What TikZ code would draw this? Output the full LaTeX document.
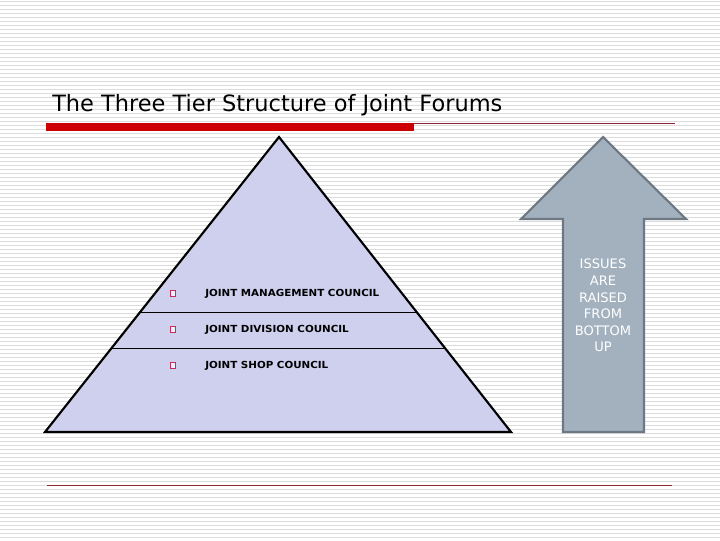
\documentclass[tikz,border=0pt]{standalone}
\usepackage{fontspec}
\setmainfont{DejaVu Sans}
\definecolor{stripec}{HTML}{DCDCDC}
\definecolor{redbar}{HTML}{CC0000}
\definecolor{thinred}{HTML}{8B2A35}
\definecolor{pyrfill}{HTML}{CED0EE}
\definecolor{arrfill}{HTML}{A3B1BF}
\definecolor{arrdraw}{HTML}{6E7882}
\definecolor{bulc}{HTML}{C0305A}
\tikzset{
  stripe/.style={stripec, line width=0.75pt},
  pyr/.style={fill=pyrfill, draw=black, line width=1.6pt, line join=miter},
  tier/.style={draw=black, line width=0.75pt},
  arrshape/.style={fill=arrfill, draw=arrdraw, line width=1.6pt, line join=miter},
  bul/.style={draw=bulc, line width=0.6pt, fill=white!70!pyrfill},
  tiertext/.style={anchor=west, inner sep=0, font=\bfseries\fontsize{7.3}{8}\selectfont},
}
\begin{document}
\begin{tikzpicture}[x=0.75pt,y=-0.75pt]
\useasboundingbox (0,0) rectangle (720,540);
\fill[white] (0,0) rectangle (720,540);
\foreach \i in {0,...,134} \draw[stripe] (0,\i*4+1.5) -- (720,\i*4+1.5);
% title
\node[anchor=base west, inner sep=0] (title) at (52,111) {\fontsize{16.85}{20}\selectfont The Three Tier Structure of Joint Forums};
\fill[redbar] (46,123) rectangle (414,131);
\draw[thinred, line width=0.8pt] (414,123.5) -- (675,123.5);
\draw[thinred, line width=0.8pt] (47,485.5) -- (672,485.5);
% pyramid
\coordinate (apex) at (279,137);
\coordinate (bl) at (45,432);
\coordinate (br) at (511,432);
\draw[pyr] (apex) -- (br) -- (bl) -- cycle;
\draw[tier] (140.2,312.3) -- (416.6,312.3);
\draw[tier] (111.6,348.3) -- (444.9,348.3);
\draw[bul] (170.5,290.5) rectangle (175.5,296.5);
\draw[bul] (170.5,326.5) rectangle (175.5,332.5);
\draw[bul] (170.5,362.5) rectangle (175.5,368.5);
\node[tiertext] (t1) at (205,294) {\scalebox{1.06}[1]{JOINT MANAGEMENT COUNCIL}};
\node[tiertext] (t2) at (205,330) {\scalebox{1.06}[1]{JOINT DIVISION COUNCIL}};
\node[tiertext] (t3) at (205,366) {\scalebox{1.06}[1]{JOINT SHOP COUNCIL}};
% arrow
\draw[arrshape] (603,137) -- (686,219) -- (644,219) -- (644,432) -- (563,432) -- (563,219) -- (521,219) -- cycle;
\node[align=center, text=white, inner sep=0, font=\fontsize{9.8}{12.4}\selectfont] (atext) at (603,305.5) {ISSUES\\ARE\\RAISED\\FROM\\BOTTOM\\UP};
\end{tikzpicture}
\end{document}
